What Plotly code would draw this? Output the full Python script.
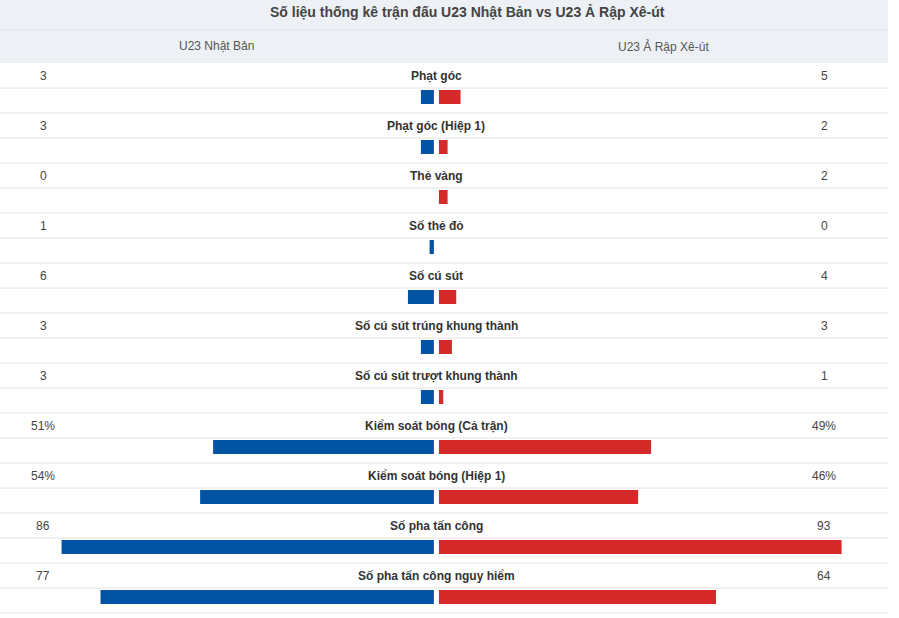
import plotly.graph_objects as go

# %% data
title = "Số liệu thống kê trận đấu U23 Nhật Bản vs U23 Ả Rập Xê-út"
team_home = "U23 Nhật Bản"
team_away = "U23 Ả Rập Xê-út"
stats = [
    "Phạt góc",
    "Phạt góc (Hiệp 1)",
    "Thẻ vàng",
    "Số thẻ đỏ",
    "Số cú sút",
    "Số cú sút trúng khung thành",
    "Số cú sút trượt khung thành",
    "Kiểm soát bóng (Cả trận)",
    "Kiểm soát bóng (Hiệp 1)",
    "Số pha tấn công",
    "Số pha tấn công nguy hiểm",
]
home_values = [3, 3, 0, 1, 6, 3, 3, 51, 54, 86, 77]
away_values = [5, 2, 2, 0, 4, 3, 1, 49, 46, 93, 64]
home_labels = ["3", "3", "0", "1", "6", "3", "3", "51%", "54%", "86", "77"]
away_labels = ["5", "2", "2", "0", "4", "3", "1", "49%", "46%", "93", "64"]

# %% layout constants
BLUE = "#0353a4"
RED = "#d62a2a"
GAP = 0.58          # half gap between the two bars, in value units
BAR_Y = 0.68        # bar centre inside a stat block
LABEL_Y = 0.25
n = len(stats)
rows = list(range(n))

fig = go.Figure()
fig.add_trace(go.Bar(
    y=[r + BAR_Y for r in rows],
    x=[-v for v in home_values],
    base=-GAP,
    orientation="h",
    width=0.28,
    marker=dict(color=BLUE, line=dict(width=0)),
    hoverinfo="skip",
))
fig.add_trace(go.Bar(
    y=[r + BAR_Y for r in rows],
    x=away_values,
    base=GAP,
    orientation="h",
    width=0.28,
    marker=dict(color=RED, line=dict(width=0)),
    hoverinfo="skip",
))

shapes = [
    dict(type="rect", xref="paper", yref="y", x0=0, x1=1, y0=-1.26, y1=0,
         fillcolor="#edf1f5", line=dict(width=0), layer="below"),
    dict(type="line", xref="paper", yref="y", x0=0, x1=1, y0=-0.66, y1=-0.66,
         line=dict(color="#dce2e9", width=1)),
]
for r in rows:
    for off in (0.5, 1.0):
        shapes.append(dict(type="line", xref="paper", yref="y", x0=0, x1=1,
                           y0=r + off, y1=r + off,
                           line=dict(color="#e2e2e2", width=1)))

annotations = [
    dict(text="<b>" + title + "</b>", xref="paper", yref="y", x=0.527, y=-1.02,
         xanchor="center", showarrow=False, font=dict(size=14, color="#444444")),
    dict(text=team_home, xref="paper", yref="y", x=0.244, y=-0.34,
         xanchor="center", showarrow=False, font=dict(size=12, color="#555555")),
    dict(text=team_away, xref="paper", yref="y", x=0.747, y=-0.34,
         xanchor="center", showarrow=False, font=dict(size=12, color="#555555")),
]
for r, s, hl, al in zip(rows, stats, home_labels, away_labels):
    annotations.append(dict(text="<b>" + s + "</b>", xref="x", yref="y", x=0,
                            y=r + LABEL_Y, xanchor="center", showarrow=False,
                            font=dict(size=12, color="#333333")))
    annotations.append(dict(text=hl, xref="paper", yref="y", x=0.0485,
                            y=r + LABEL_Y, xanchor="center", showarrow=False,
                            font=dict(size=12, color="#444444")))
    annotations.append(dict(text=al, xref="paper", yref="y", x=0.928,
                            y=r + LABEL_Y, xanchor="center", showarrow=False,
                            font=dict(size=12, color="#444444")))

fig.update_layout(
    width=899, height=618,
    margin=dict(l=0, r=11, t=0, b=0),
    paper_bgcolor="white", plot_bgcolor="white",
    barmode="overlay", showlegend=False,
    font=dict(family="Liberation Sans, Arial, sans-serif"),
    xaxis=dict(range=[-100.8, 104.3], visible=False, fixedrange=True),
    yaxis=dict(range=[11.1, -1.26], visible=False, fixedrange=True),
    shapes=shapes, annotations=annotations,
)

# drop the browser's default page margin so the table starts at the corner
fig.write_html("out.html", config={"displayModeBar": False},
               post_script="document.body.style.margin='0px';")
